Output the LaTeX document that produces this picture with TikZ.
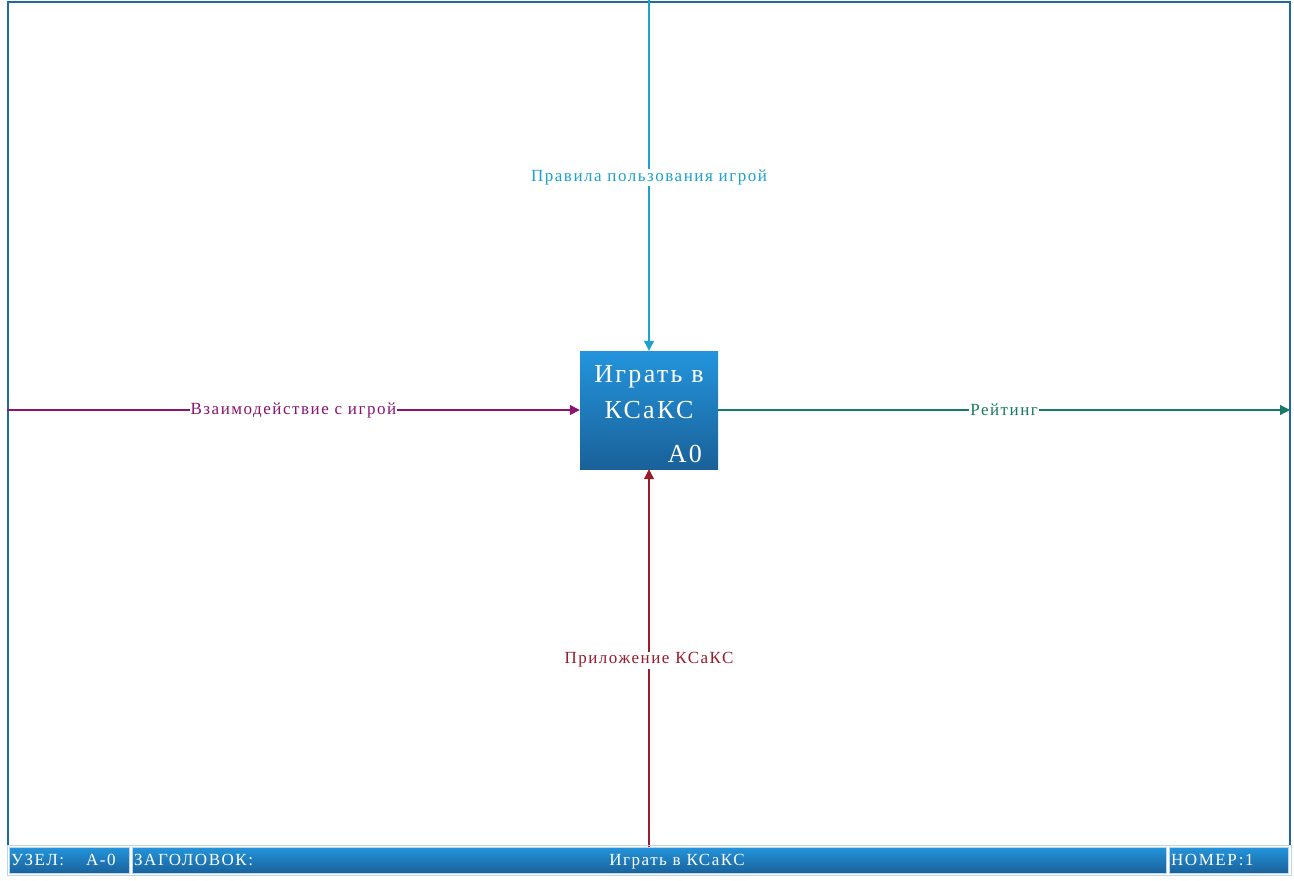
\documentclass[tikz,border=0pt]{standalone}
\usepackage{fontspec}
\setmainfont{Liberation Serif}
\newfontfamily\lblfont[LetterSpace=9]{Liberation Serif}
\newfontfamily\boxfont[LetterSpace=9]{Liberation Serif}
\usetikzlibrary{arrows.meta,positioning}

\definecolor{framecol}{HTML}{1E6A9E}
\definecolor{boxtop}{HTML}{2394DC}
\definecolor{boxbot}{HTML}{1A6199}
\definecolor{ctrlcol}{HTML}{1BA3CC}
\definecolor{inpcol}{HTML}{8A1470}
\definecolor{outcol}{HTML}{177A62}
\definecolor{mechcol}{HTML}{9A1B2A}
\definecolor{edgecol}{HTML}{BBD7EE}

\tikzset{
  func/.style={draw=none, top color=boxtop, bottom color=boxbot,
    minimum width=138pt, minimum height=118pt, inner sep=0pt},
  functext/.style={text=white, font=\boxfont\fontsize{26}{36}\selectfont, align=center, inner sep=0pt},
  arr/.style={line width=1.2pt, -{Triangle[length=10pt,width=10pt]}},
  lbl/.style={fill=white, inner sep=1pt, font=\lblfont\fontsize{17}{20}\selectfont},
  cell/.style={draw=edgecol, line width=0.8pt, top color=boxtop, bottom color=boxbot,
    minimum height=26pt, inner sep=0pt, anchor=north west},
  foot/.style={text=white, font=\lblfont\fontsize{17}{20}\selectfont, inner sep=0pt}
}

\begin{document}
\begin{tikzpicture}[x=1pt,y=-1pt]
  \useasboundingbox (0,0) rectangle (1294,881);

  % Frame
  \draw[framecol,line width=2pt] (7.5,846) -- (7.5,1.5) -- (1289.5,1.5) -- (1289.5,846);

  % Function box
  \node[func] (a0) at (649,410) {};
  \node[functext, below=14pt of a0.north] (a0title) {Играть в\\КСаКС};
  \node[functext, anchor=south east] (a0num) at ([xshift=-16pt,yshift=6pt]a0.south east) {A0};

  % Free ends
  \coordinate (ctrl) at (649,0);
  \coordinate (inp) at (7,410);
  \coordinate (out) at (1290,410);
  \coordinate (mech) at (649,847);

  % Arrows
  \draw[arr,ctrlcol] (ctrl) -- node[lbl,text=ctrlcol,yshift=-2pt] (ctrllbl) {Правила пользования игрой} (a0.north);
  \draw[arr,inpcol] (inp) -- node[lbl,text=inpcol] (inplbl) {Взаимодействие с игрой} (a0.west);
  \draw[arr,outcol] (a0.east) -- node[lbl,text=outcol] (outlbl) {Рейтинг} (out);
  \draw[arr,mechcol] (mech) -- node[lbl,text=mechcol,yshift=-2pt] (mechlbl) {Приложение КСаКС} (a0.south);

  % Footer
  \draw[edgecol,line width=0.8pt] (7,845) rectangle (1291,875);
  \node[cell, minimum width=120pt] (node) at (9,847) {};
  \node[cell, minimum width=1034pt] (title) at (132,847) {};
  \node[cell, minimum width=119pt] (number) at (1169,847) {};
  \node[foot, anchor=base west] (nodelbl) at (11,865) {УЗЕЛ:};
  \node[foot, anchor=base west] (nodeval) at (86,865) {А-0};
  \node[foot, anchor=base west] (titlelbl) at (134,865) {ЗАГОЛОВОК:};
  \node[foot, anchor=base] (titleval) at (677,865) {Играть в КСаКС};
  \node[foot, anchor=base west] (numberlbl) at (1171,865) {НОМЕР:1};
\end{tikzpicture}
\end{document}
